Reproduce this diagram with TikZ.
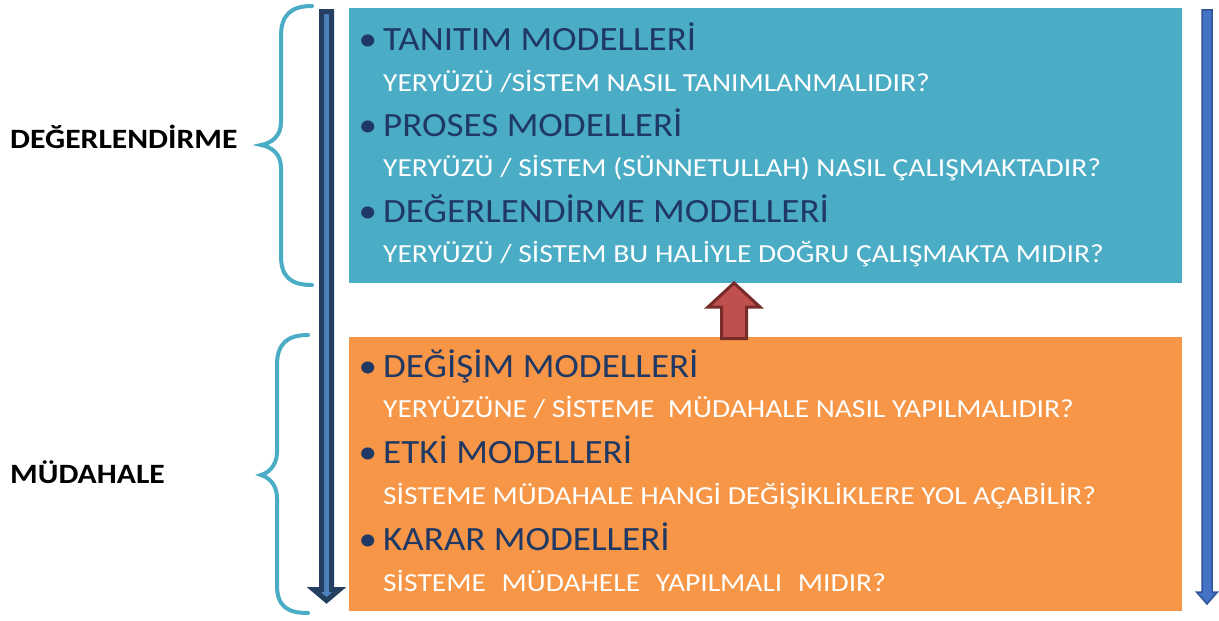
\documentclass[tikz,border=0pt]{standalone}
\usepackage{fontspec}
\setmainfont{Carlito}
\newfontfamily\headfont[FakeStretch=1.09]{Carlito}
\newfontfamily\subfont[FakeStretch=1.135]{Carlito}
\newfontfamily\labfont[FakeStretch=1.13]{Carlito}
\definecolor{aqua}{HTML}{4BACC6}
\definecolor{orng}{HTML}{F79646}
\definecolor{navy}{HTML}{1F3864}
\definecolor{arrlight}{HTML}{4F81BD}
\definecolor{arrdark}{HTML}{243F60}
\definecolor{rarrfill}{HTML}{4472C4}
\definecolor{rarrline}{HTML}{2F5597}
\definecolor{redfill}{HTML}{C0504D}
\definecolor{redline}{HTML}{772C2A}
\begin{document}
\begin{tikzpicture}[x=1pt,y=-1pt,
  panel/.style={rectangle, inner sep=0pt, minimum width=833pt, anchor=north west},
  head/.style={anchor=base west, text=navy, inner sep=0pt, font=\headfont\fontsize{34}{34}\selectfont},
  sub/.style={anchor=base west, text=white, inner sep=0pt, font=\subfont\fontsize{26}{26}\selectfont},
  lab/.style={anchor=base west, text=black, inner sep=0pt, font=\labfont\fontsize{28}{28}\selectfont\bfseries},
  brace/.style={draw=aqua, line width=4pt, line cap=round, fill=none}]
\useasboundingbox (0,0) rectangle (1219,621);
\newcommand{\bl}{\makebox[0pt][r]{\textbullet\hspace{6pt}}}
% panels
\node[panel, fill=aqua, minimum height=275pt] (top) at (349,8) {};
\node[panel, fill=orng, minimum height=274pt] (bot) at (349,337) {};
% top texts
\node[head] (h1) at (383,50) {\bl TANITIM MODELLERİ};
\node[sub]  (s1) at (383,91) {YERYÜZÜ /SİSTEM NASIL TANIMLANMALIDIR?};
\node[head] (h2) at (383,136) {\bl PROSES MODELLERİ};
\node[sub]  (s2) at (383,176) {YERYÜZÜ / SİSTEM (SÜNNETULLAH) NASIL ÇALIŞMAKTADIR?};
\node[head] (h3) at (383,222) {\bl DEĞERLENDİRME MODELLERİ};
\node[sub]  (s3) at (383,262) {YERYÜZÜ / SİSTEM BU HALİYLE DOĞRU ÇALIŞMAKTA MIDIR?};
% bottom texts
\node[head] (h4) at (383,377) {\bl DEĞİŞİM MODELLERİ};
\node[sub]  (s4) at (383,417) {YERYÜZÜNE / SİSTEME\ \ MÜDAHALE NASIL YAPILMALIDIR?};
\node[head] (h5) at (383,463) {\bl ETKİ MODELLERİ};
\node[sub]  (s5) at (383,504) {SİSTEME MÜDAHALE HANGİ DEĞİŞİKLİKLERE YOL AÇABİLİR?};
\node[head] (h6) at (383,550) {\bl KARAR MODELLERİ};
\node[sub]  (s6) at (383,591) {SİSTEME\ \hspace{9pt}MÜDAHELE\hspace{9pt} YAPILMALI\hspace{9pt} MIDIR?};
% side labels
\node[lab] (l1) at (10,148) {DEĞERLENDİRME};
\node[lab] (l2) at (10,483) {MÜDAHALE};
% braces
\draw[brace] (312,6) .. controls (291,6) and (281,15) .. (281,36) -- (281,122)
  .. controls (281,136) and (272,143) .. (261,145)
  .. controls (272,147) and (281,154) .. (281,168) -- (281,256)
  .. controls (281,277) and (291,285) .. (312,285);
\draw[brace] (308,335) .. controls (287,335) and (277,344) .. (277,365) -- (277,452)
  .. controls (277,466) and (268,473) .. (261,475)
  .. controls (268,477) and (277,484) .. (277,498) -- (277,585)
  .. controls (277,606) and (287,613) .. (308,613);
% left arrow
\draw[fill=arrlight, draw=arrdark, line width=5pt, line join=miter]
  (321.5,11.5) -- (331.5,11.5) -- (331.5,589.5) -- (339.5,589.5) -- (326.5,600.5)
  -- (313.5,589.5) -- (321.5,589.5) -- cycle;
% right arrow
\draw[fill=rarrfill, draw=rarrline, line width=1.5pt, line join=miter]
  (1202,9.75) -- (1212,9.75) -- (1212,592) -- (1217.5,592) -- (1207,604)
  -- (1196.5,592) -- (1202,592) -- cycle;
% red up arrow
\draw[fill=redfill, draw=redline, line width=3pt, line join=miter]
  (734,283) -- (760,307) -- (746.5,307) -- (746.5,338.5) -- (721.5,338.5)
  -- (721.5,307) -- (708,307) -- cycle;
\end{tikzpicture}
\end{document}
